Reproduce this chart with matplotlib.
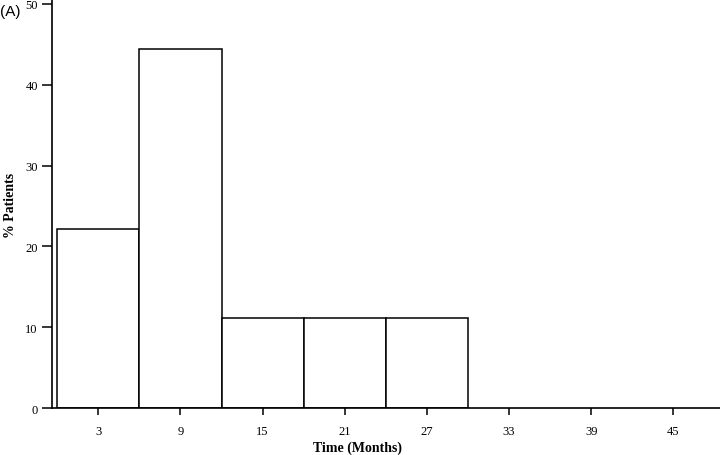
import numpy as np
import matplotlib.pyplot as plt

# histogram of time to event, 6-month bins
bin_centers = [3, 9, 15, 21, 27]
pct_patients = [22.2, 44.4, 11.1, 11.1, 11.1]
xticks = [3, 9, 15, 21, 27, 33, 39, 45]
yticks = [0, 10, 20, 30, 40, 50]

fig = plt.figure(figsize=(7.2, 4.56), dpi=100)
ax = fig.add_axes([0.0718, 0.103, 0.9282, 0.897])

ax.bar(bin_centers, pct_patients, width=6, color='white', edgecolor='black', linewidth=1.1)

ax.set_xlim(-0.4, 48.4)
ax.set_ylim(0, 50.6)
ax.set_xticks(xticks)
ax.set_yticks(yticks)

for s in ['top', 'right']:
    ax.spines[s].set_visible(False)
for s in ['left', 'bottom']:
    ax.spines[s].set_linewidth(1.2)

ax.tick_params(axis='x', length=5, width=1.1, pad=7)
ax.tick_params(axis='y', length=7, width=1.1, pad=3)
for lab in ax.get_xticklabels() + ax.get_yticklabels():
    lab.set_fontfamily('Liberation Serif')
    lab.set_fontsize(9)

fig.text(0.497, 0.002, 'Time (Months)', ha='center', va='bottom',
         fontfamily='Liberation Serif', fontweight='bold', fontsize=10)
fig.text(0.014, 0.55, '% Patients', ha='center', va='center', rotation=90,
         fontfamily='Liberation Serif', fontweight='bold', fontsize=10)
fig.text(0.0, 0.973, '(A)', ha='left', va='center', fontfamily='Liberation Sans', fontsize=11)

fig.savefig('out.png', dpi=100)
